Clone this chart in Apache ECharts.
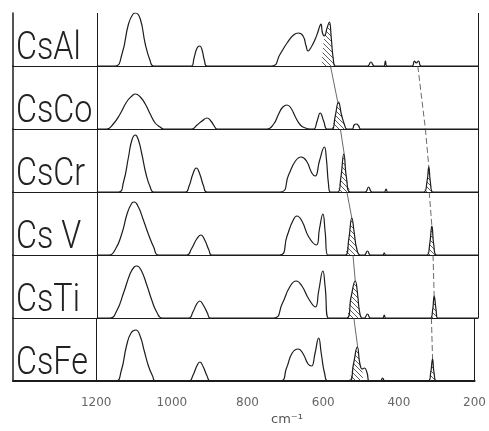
<!DOCTYPE html>
<html>
<head>
<meta charset="utf-8">
<script src="https://cdn.jsdelivr.net/npm/echarts@6/dist/echarts.min.js"></script>
<style>
  html, body { margin: 0; padding: 0; background: #fff; }
  #chart { width: 489px; height: 431px; }
</style>
</head>
<body>
<div id="chart"></div>
<script>
// panel names, top to bottom
const labels = ['CsAl', 'CsCo', 'CsCr', 'Cs V', 'CsTi', 'CsFe'];
const tickLabels = [1200, 1000, 800, 600, 400, 200];

// spectra: [wavenumber, height]
const csAl = [[1200,0],[1152,0],[1134,12],[1117,42],[1105,52],[1098,53],[1086,47],[1073,22],[1060,5],[1051,0],
  [952,0],[945,8],[937,18],[930,20],[924,16],[918,6],[911,0],
  [741,0],[719,12],[701,23],[684,31],[671,33],[659,30],[651,20],[646,15],[636,20],[627,27],[621,33],[615,40],[612,42],[608,33],[603,30],[596,38],[590,44],[585,28],[580,8],[574,0],
  [490,0],[481,4],[472,0],[447,0],[443,5],[439,0],
  [373,0],[367,5],[362,3],[356,5],[349,0],[200,0]];
const csAlHatch = [[610,0],[603,30],[596,38],[590,44],[585,28],[580,8],[574,0]];

const csCo = [[1200,0],[1174,0],[1157,5],[1139,15],[1122,27],[1108,33],[1099,35],[1086,32],[1073,25],[1060,15],[1047,6],[1034,2],[1025,0],
  [951,0],[937,4],[924,8],[911,11],[901,8],[892,3],[885,0],
  [754,0],[736,5],[723,15],[712,22],[701,24],[691,21],[679,12],[666,4],[653,1],[640,0],
  [631,0],[622,8],[614,16],[605,8],[596,0],
  [583,0],[575,12],[566,27],[558,14],[550,4],[544,0],
  [530,0],[525,4],[519,5],[513,3],[508,0],[200,0]];
const csCoHatch = [[583,0],[575,12],[566,27],[558,14],[550,4],[544,0]];

const csCr = [[1200,0],[1143,0],[1130,10],[1117,35],[1108,52],[1099,57],[1091,52],[1082,38],[1071,18],[1060,5],[1051,0],
  [968,0],[958,6],[948,18],[939,24],[930,18],[920,6],[911,0],
  [719,0],[697,17],[679,31],[664,35],[650,31],[636,19],[627,16],[616,31],[603,45],[598,34],[592,7],[587,0],
  [568,0],[560,14],[552,38],[545,14],[535,0],
  [496,0],[487,5],[478,0],[446,0],[441,3],[437,0],
  [342,0],[334,10],[329,25],[325,10],[318,0],[200,0]];
const csCrHatch = [[568,0],[560,14],[552,38],[545,14],[535,0]];
const csCrHatch2 = [[342,0],[334,10],[329,25],[325,10],[318,0]];

const csV = [[1200,0],[1169,0],[1151,6],[1134,22],[1120,42],[1108,52],[1102,53],[1091,48],[1078,35],[1064,20],[1051,8],[1038,0],
  [964,0],[952,6],[938,16],[927,20],[917,15],[906,5],[898,0],
  [720,0],[701,19],[686,34],[675,39],[662,34],[644,18],[624,10],[616,26],[607,41],[601,23],[594,0],
  [548,0],[539,16],[531,37],[525,23],[518,6],[509,0],
  [498,0],[490,4],[482,0],[450,0],[446,2],[442,0],
  [334,0],[327,10],[321,29],[316,10],[309,0],[200,0]];
const csVHatch = [[548,0],[539,16],[531,37],[525,23],[518,6],[509,0]];
const csVHatch2 = [[334,0],[327,10],[321,29],[316,10],[309,0]];

const csTi = [[1200,0],[1165,0],[1148,7],[1130,25],[1112,45],[1102,51],[1095,52],[1084,48],[1069,33],[1056,18],[1043,6],[1029,0],
  [959,0],[948,6],[938,14],[930,17],[921,13],[910,5],[902,0],
  [736,0],[714,14],[694,31],[677,37],[662,32],[644,19],[627,11],[618,27],[607,47],[601,31],[592,0],
  [544,0],[533,21],[522,37],[516,24],[511,7],[504,0],
  [498,0],[490,4],[482,0],[450,0],[446,3],[442,0],
  [325,0],[319,8],[315,22],[310,8],[306,0],[200,0]];
const csTiHatch = [[544,0],[533,21],[522,37],[516,24],[511,7],[504,0]];
const csTiHatch2 = [[325,0],[319,8],[315,22],[310,8],[306,0]];

const csFe = [[1200,0],[1148,0],[1134,10],[1120,35],[1108,48],[1095,51],[1084,45],[1073,30],[1062,15],[1051,5],[1043,0],
  [955,0],[944,6],[934,15],[926,19],[917,14],[907,5],[898,0],
  [714,0],[697,13],[682,28],[666,32],[653,27],[640,17],[631,15],[622,27],[612,43],[605,27],[596,7],[587,0],
  [531,0],[520,17],[510,34],[503,17],[497,12],[491,13],[484,8],[478,0],
  [449,0],[443,3],[437,0],
  [322,0],[316,8],[311,22],[307,8],[300,0],[200,0]];
const csFeHatch = [[531,0],[520,17],[510,34],[503,17],[497,12],[495,0]];
const csFeHatch2 = [[322,0],[316,8],[311,22],[307,8],[300,0]];

// guide lines drawn between panels: [from top of panel, to peak]
const guideA = [null, [[587,63],[568,27]], [[561,63],[551,38]], [[544,63],[531,37]], [[528,63],[522,37]], [[519,63],[509,34]]];
const guideB = [null, [[358,63],[338,0]], [[338,63],[329,25]], [[328,63],[321,29]], [[318,63],[315,22]], [[314,63],[311,22]]];

const curves = [csAl, csCo, csCr, csV, csTi, csFe];
const hatches = [[csAlHatch], [csCoHatch], [csCrHatch, csCrHatch2], [csVHatch, csVHatch2], [csTiHatch, csTiHatch2], [csFeHatch, csFeHatch2]];

// diagonal hatch pattern
function makeHatch() {
  const s = 5;
  const c = document.createElement('canvas');
  c.width = s; c.height = s;
  const ctx = c.getContext('2d');
  ctx.strokeStyle = '#333';
  ctx.lineWidth = 0.8;
  ctx.beginPath();
  ctx.moveTo(0, 0); ctx.lineTo(s, s);
  ctx.moveTo(-1, s - 1); ctx.lineTo(1, s + 1);
  ctx.moveTo(s - 1, -1); ctx.lineTo(s + 1, 1);
  ctx.stroke();
  return c;
}
const hatch = makeHatch();

const chart = echarts.init(document.getElementById('chart'));

const grids = [], xAxes = [], yAxes = [], series = [], graphics = [];
const ink = '#1c1c1c';

for (let i = 0; i < 6; i++) {
  const top = i === 0 ? 13 : 66 + 63 * (i - 1);
  const h = i === 0 ? 53 : 63;
  grids.push({ left: 13, right: 11, top: top, height: h });
  xAxes.push({
    type: 'value', gridIndex: i, inverse: true,
    min: 200, max: 1420, interval: 200,
    axisLine: { show: true, onZero: false, lineStyle: { color: ink, width: i === 5 ? 2 : 1.2 } },
    axisTick: { show: false },
    splitLine: { show: false },
    axisLabel: {
      show: i === 5, margin: 16, color: '#666', fontSize: 12, fontFamily: 'DejaVu Sans',
      formatter: v => tickLabels.indexOf(v) >= 0 ? String(v) : ''
    }
  });
  yAxes.push({
    type: 'value', gridIndex: i, min: 0, max: h,
    axisLine: { show: true, lineStyle: { color: ink, width: 1.5 } },
    axisTick: { show: false }, axisLabel: { show: false }, splitLine: { show: false }
  });

  series.push({
    type: 'line', xAxisIndex: i, yAxisIndex: i,
    data: curves[i], smooth: 0.5, showSymbol: false, z: 5,
    lineStyle: { color: ink, width: 1.2 },
    markLine: {
      silent: true, symbol: ['none', 'none'], label: { show: false },
      lineStyle: { color: ink, width: 1, type: 'solid' },
      data: [{ xAxis: 1200 }, { xAxis: 200 }]
    }
  });
  hatches[i].forEach(d => {
    series.push({
      type: 'line', xAxisIndex: i, yAxisIndex: i,
      data: d, smooth: 0.5, showSymbol: false, z: 4,
      lineStyle: { width: 0 },
      areaStyle: { color: { image: hatch, repeat: 'repeat' }, opacity: 1 }
    });
  });
  if (guideA[i]) {
    series.push({
      type: 'line', xAxisIndex: i, yAxisIndex: i, data: guideA[i],
      showSymbol: false, z: 3, lineStyle: { color: '#444', width: 0.8 }
    });
    series.push({
      type: 'line', xAxisIndex: i, yAxisIndex: i, data: guideB[i],
      showSymbol: false, z: 3, lineStyle: { color: '#444', width: 0.8, type: [6, 3] }
    });
  }

  graphics.push({
    type: 'text', x: 16, y: top + h - 17, scaleX: 0.85,
    style: {
      text: labels[i], fill: '#222', fontSize: 38, fontFamily: 'Roboto', fontWeight: 300,
      textVerticalAlign: 'middle'
    }
  });
}

graphics.push({
  type: 'text', x: 287, y: 420,
  style: { text: 'cm⁻¹', fill: '#555', fontSize: 13, fontFamily: 'DejaVu Sans', textAlign: 'center', textVerticalAlign: 'middle' }
});

chart.setOption({
  animation: false,
  backgroundColor: '#fff',
  grid: grids,
  xAxis: xAxes,
  yAxis: yAxes,
  series: series,
  graphic: graphics
});
</script>
</body>
</html>
